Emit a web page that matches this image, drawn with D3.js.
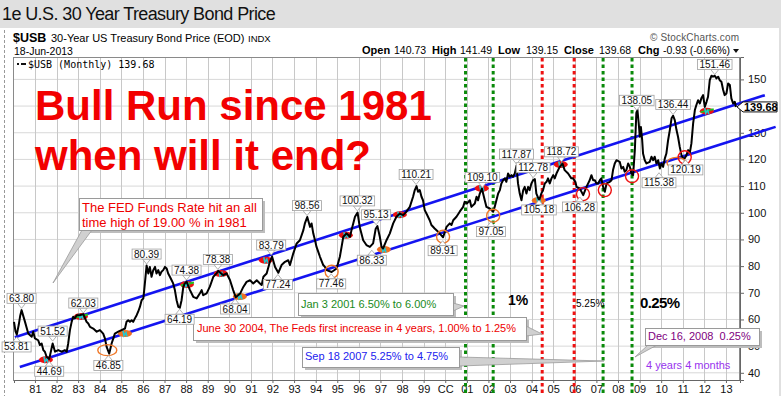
<html lang="en">
<head>
<script src="https://d3js.org/d3.v7.min.js" charset="utf-8"></script>
<style>
  body { margin: 0; background: #e0e0e0; }
  svg text { font-family: Arial, "Liberation Sans", sans-serif; }
</style>
</head>
<body>
<script>
// monthly close, [decimal year, price]
var bondClose = [
  [1980.03,59.1],[1980.10,55.5],[1980.16,54.3],[1980.25,58.0],[1980.32,61.5],[1980.38,63.5],
  [1980.54,59.1],[1980.69,54.7],[1980.85,53.5],[1980.92,55.4],[1981.00,52.9],[1981.15,52.2],
  [1981.23,50.4],[1981.31,51.0],[1981.39,48.5],[1981.46,47.9],[1981.54,46.0],[1981.66,45.2],
  [1981.82,51.0],[1981.93,47.9],[1982.08,48.5],[1982.23,47.9],[1982.39,48.5],[1982.47,47.9],
  [1982.54,51.0],[1982.62,56.0],[1982.70,59.1],[1982.77,61.0],[1982.85,60.4],[1982.93,61.6],
  [1983.08,61.6],[1983.24,62.0],[1983.39,59.1],[1983.47,58.5],[1983.55,57.2],[1983.70,56.6],
  [1983.86,55.4],[1984.01,56.0],[1984.16,54.7],[1984.24,52.9],[1984.32,49.7],[1984.44,47.2],
  [1984.55,51.0],[1984.63,52.9],[1984.70,54.7],[1984.86,55.4],[1985.01,56.0],[1985.17,56.6],
  [1985.24,59.1],[1985.32,59.7],[1985.40,59.1],[1985.48,59.7],[1985.55,59.1],[1985.63,60.4],
  [1985.71,61.6],[1985.78,62.9],[1985.86,64.7],[1985.94,67.2],[1986.02,67.9],[1986.06,71.0],
  [1986.12,76.0],[1986.17,80.2],[1986.25,77.2],[1986.32,79.7],[1986.40,76.0],[1986.48,78.5],
  [1986.56,79.7],[1986.63,77.2],[1986.71,78.5],[1986.79,76.6],[1986.86,77.9],[1986.94,78.5],
  [1987.02,79.7],[1987.10,79.1],[1987.17,77.2],[1987.25,76.0],[1987.33,74.7],[1987.40,73.5],
  [1987.48,71.0],[1987.56,67.2],[1987.64,64.7],[1987.71,64.4],[1987.79,67.2],[1987.87,72.2],
  [1987.94,73.5],[1988.02,74.2],[1988.18,71.0],[1988.33,68.5],[1988.49,67.9],[1988.64,69.8],
  [1988.72,71.0],[1988.79,69.1],[1988.95,69.8],[1989.10,72.3],[1989.26,76.0],[1989.41,77.3],
  [1989.49,78.2],[1989.72,76.6],[1989.87,77.3],[1990.03,74.8],[1990.18,71.0],[1990.30,68.3],
  [1990.50,69.7],[1990.65,72.2],[1990.80,74.1],[1990.96,74.7],[1991.11,73.5],[1991.27,74.7],
  [1991.42,73.5],[1991.50,72.9],[1991.58,76.0],[1991.73,77.2],[1991.88,81.6],[1991.98,83.6],
  [1992.12,79.7],[1992.27,77.5],[1992.42,80.4],[1992.58,81.6],[1992.73,82.2],[1992.81,80.4],
  [1992.96,84.7],[1993.12,88.5],[1993.27,89.7],[1993.43,93.5],[1993.50,96.0],[1993.61,98.4],
  [1993.74,94.7],[1993.81,96.0],[1993.89,92.2],[1993.97,89.7],[1994.04,87.2],[1994.20,83.5],
  [1994.35,80.4],[1994.43,79.7],[1994.51,78.5],[1994.74,77.8],[1994.97,79.1],[1995.12,83.5],
  [1995.20,87.2],[1995.28,91.0],[1995.43,92.2],[1995.59,91.0],[1995.66,93.5],[1995.74,96.0],
  [1995.82,98.5],[1995.94,100.1],[1996.04,94.7],[1996.20,89.7],[1996.35,87.9],[1996.51,87.2],
  [1996.66,88.5],[1996.78,94.0],[1996.86,95.0],[1996.97,91.0],[1997.05,87.2],[1997.12,86.6],
  [1997.28,89.7],[1997.43,92.2],[1997.59,96.0],[1997.74,98.5],[1997.90,99.7],[1998.05,99.1],
  [1998.20,100.4],[1998.36,102.2],[1998.51,106.0],[1998.59,108.5],[1998.67,110.0],[1998.74,107.9],
  [1998.82,108.5],[1998.90,106.0],[1998.97,104.7],[1999.05,101.0],[1999.13,99.7],[1999.28,97.2],
  [1999.36,95.4],[1999.51,94.1],[1999.67,92.9],[1999.90,90.8],[2000.06,94.7],[2000.21,96.0],
  [2000.29,95.4],[2000.37,97.2],[2000.52,98.5],[2000.67,100.4],[2000.83,102.2],[2000.90,104.1],
  [2001.01,103.5],[2001.14,104.7],[2001.21,102.2],[2001.37,103.5],[2001.45,106.0],[2001.52,104.7],
  [2001.60,107.2],[2001.70,109.0],[2001.83,104.7],[2001.91,102.2],[2002.06,101.6],[2002.22,100.4],
  [2002.29,102.2],[2002.37,104.7],[2002.45,107.2],[2002.53,108.5],[2002.60,111.0],[2002.68,112.2],
  [2002.76,112.9],[2002.83,111.6],[2002.91,114.7],[2002.99,113.5],[2003.07,114.1],[2003.14,113.5],
  [2003.22,114.7],[2003.30,117.6],[2003.37,111.0],[2003.45,107.2],[2003.53,104.7],[2003.61,108.5],
  [2003.68,109.7],[2003.76,107.2],[2003.84,109.7],[2003.91,108.5],[2003.99,111.0],[2004.07,112.2],
  [2004.15,112.6],[2004.22,107.2],[2004.35,104.7],[2004.45,107.2],[2004.53,108.5],[2004.61,111.0],
  [2004.69,111.6],[2004.76,112.9],[2004.84,111.0],[2004.92,112.9],[2005.00,114.1],[2005.07,112.9],
  [2005.15,114.7],[2005.30,117.2],[2005.43,118.4],[2005.53,116.0],[2005.69,114.7],[2005.84,112.9],
  [2005.92,112.9],[2006.03,111.5],[2006.08,109.7],[2006.23,109.1],[2006.39,106.6],[2006.54,109.7],
  [2006.69,112.2],[2006.77,114.1],[2006.85,112.2],[2006.93,112.2],[2007.00,111.0],[2007.08,111.0],
  [2007.16,112.2],[2007.23,112.9],[2007.31,109.7],[2007.39,107.9],[2007.47,111.0],[2007.62,111.6],
  [2007.70,112.2],[2007.77,116.0],[2007.85,118.5],[2007.93,119.7],[2008.08,119.1],[2008.16,116.6],
  [2008.24,117.2],[2008.31,115.4],[2008.39,116.0],[2008.47,118.5],[2008.55,117.2],[2008.62,114.7],
  [2008.70,114.1],[2008.78,123.5],[2008.85,137.5],[2008.90,138.6],[2008.96,133.5],[2009.01,128.5],
  [2009.06,132.2],[2009.12,127.2],[2009.16,122.2],[2009.24,119.7],[2009.32,118.5],[2009.47,119.1],
  [2009.55,121.0],[2009.63,119.7],[2009.70,121.0],[2009.78,118.5],[2009.86,119.7],[2009.94,116.6],
  [2010.01,118.5],[2010.09,117.2],[2010.17,120.4],[2010.24,122.2],[2010.32,127.2],[2010.40,131.0],
  [2010.48,135.4],[2010.55,136.4],[2010.63,134.7],[2010.71,131.0],[2010.78,128.5],[2010.86,124.7],
  [2010.94,121.6],[2011.02,120.4],[2011.09,120.4],[2011.17,121.6],[2011.25,123.5],[2011.32,122.2],
  [2011.40,126.0],[2011.48,133.5],[2011.56,138.5],[2011.63,140.4],[2011.71,142.2],[2011.79,141.0],
  [2011.86,142.9],[2011.94,144.1],[2012.02,139.7],[2012.10,141.6],[2012.17,143.5],[2012.25,149.7],
  [2012.33,151.4],[2012.40,151.0],[2012.48,151.4],[2012.56,150.4],[2012.64,151.0],[2012.71,149.7],
  [2012.79,149.1],[2012.87,146.0],[2012.94,144.1],[2013.02,144.7],[2013.10,148.5],[2013.18,147.9],
  [2013.25,142.9],[2013.33,141.0],[2013.41,141.6],[2013.46,139.68]
]

// high / low call-outs: [year, value, text, side]
var peakLabels = [
  [1980.38,63.80,"63.80","up"],[1980.15,53.81,"53.81","down"],[1981.82,51.52,"51.52","up"],
  [1981.66,44.69,"44.69","down"],[1983.24,62.03,"62.03","up"],[1984.40,46.85,"46.85","down"],
  [1986.17,80.39,"80.39","up"],[1987.70,64.19,"64.19","down"],[1988.02,74.38,"74.38","up"],
  [1989.47,78.38,"78.38","up"],[1990.27,68.04,"68.04","down"],[1991.94,83.79,"83.79","up"],
  [1992.25,77.24,"77.24","down"],[1993.60,98.56,"98.56","up"],[1994.72,77.46,"77.46","down"],
  [1995.93,100.32,"100.32","up"],[1996.80,95.13,"95.13","up"],[1996.60,86.33,"86.33","down"],
  [1998.65,110.21,"110.21","up"],[1999.88,89.91,"89.91","down"],[2001.72,109.10,"109.10","up"],
  [2002.12,97.05,"97.05","down"],[2003.30,117.87,"117.87","up"],[2004.07,112.78,"112.78","up"],
  [2004.34,105.18,"105.18","down"],[2005.38,118.72,"118.72","up"],[2006.23,106.28,"106.28","down"],
  [2008.87,138.05,"138.05","up"],[2009.90,115.38,"115.38","down"],[2010.55,136.44,"136.44","up"],
  [2011.13,120.19,"120.19","down"],[2012.48,151.46,"151.46","up"]
]

// channel lines drawn on the chart
var upperChannel = [[1980.07,53.3],[2014.80,144.1]]
var lowerChannel = [[1980.30,42.2],[2015.30,132.2]]

// Fed rate moves marked by dashed verticals
var rateMoves = [[2000.94,"cut"],[2002.22,"cut"],[2004.49,"hike"],[2005.97,"hike"],[2007.31,"cut"],[2008.65,"cut"]]

// touches of the channel (painted blobs) and rings round the lows
var touchMarks = [
  [1981.51,44.9,"red"],[1983.13,61.1,"redGreen"],[1985.17,54.7,"orange"],[1988.04,73.1,"redGreen"],
  [1989.61,77.2,"red"],[1990.49,68.6,"orange"],[1991.69,82.2,"red"],[1995.40,91.6,"red"],
  [1997.16,86.2,"orange"],[1997.90,99.3,"red"],[2001.69,109.2,"red"],[2004.33,104.6,"orange"],
  [2005.35,118.1,"red"],[2012.11,138.1,"redGreen"]
]
var lowRings = [
  [1984.35,48.5,"orangeWide"],[1994.74,77.9,"orange"],[1999.90,91.0,"orange"],[2002.22,98.9,"orange"],
  [2006.38,107.0,"red"],[2007.39,108.5,"red"],[2008.65,113.7,"red"],[2010.71,118.7,"orangeWide"],
  [2011.09,120.8,"red"]
]

var yTicks = [40,50,60,70,80,90,100,110,120,130,140,150]
var yearTicks = d3.range(1981, 2014)
var lastClose = 139.68

var width = 781, height = 396

var svg = d3.select("body").append("svg")
  .attr("width", width).attr("height", height)

// panels
svg.append("rect").attr("width", width).attr("height", height).attr("fill", "#e0e0e0")
svg.append("rect").attr("x", 0).attr("y", 28).attr("width", 779).attr("height", 368).attr("fill", "white")
svg.append("text").attr("x", 2).attr("y", 20).attr("font-size", 18).attr("letter-spacing", -0.6)
  .attr("fill", "#111").text("1e U.S. 30 Year Treasury Bond Price")

var x = d3.scaleLinear().domain([1980.03, 2013.65]).range([14, 740])
var y = d3.scaleLinear().domain([37.3, 158.4]).range([380, 57])

// header
var hdr = svg.append("g")
hdr.append("text").attr("x", 13).attr("y", 42).attr("font-size", 12.5).attr("font-weight", "bold").text("$USB")
hdr.append("text").attr("x", 51).attr("y", 42).attr("font-size", 11).text("30-Year US Treasury Bond Price (EOD)")
hdr.append("text").attr("x", 248).attr("y", 42).attr("font-size", 9.5).text("INDX")
hdr.append("text").attr("x", 14).attr("y", 55).attr("font-size", 10.5).text("18-Jun-2013")
hdr.append("text").attr("x", 650).attr("y", 41).attr("font-size", 10).attr("fill", "#555")
  .attr("textLength", 89).text("\u00a9 StockCharts.com")
var ohlc = [["Open",362,true],["140.73",394,false],["High",432,true],["141.49",460,false],["Low",498,true],
  ["139.15",526,false],["Close",564,true],["139.68",599,false],["Chg",638,true],["-0.93 (-0.66%)",663,false]]
ohlc.forEach(function(d) {
  hdr.append("text").attr("x", d[1]).attr("y", 54)
    .attr("font-size", d[2] ? 11 : 10.5).attr("font-weight", d[2] ? "bold" : "normal").text(d[0])
})
hdr.append("path").attr("d", "M733,49 L739,49 L736,53 Z").attr("fill", "#111")

// plot frame and grid
var grid = svg.append("g")
grid.selectAll(".hg").data(yTicks).enter().append("line")
  .attr("x1", 14).attr("x2", 740).attr("y1", function(d) { return y(d) }).attr("y2", function(d) { return y(d) })
  .attr("stroke", "#d8d8d8").attr("stroke-width", 1)
grid.selectAll(".vg").data(yearTicks).enter().append("line")
  .attr("x1", function(d) { return Math.round(x(d)) + 0.5 }).attr("x2", function(d) { return Math.round(x(d)) + 0.5 })
  .attr("y1", 57).attr("y2", 380).attr("stroke", "#c8c8c8").attr("stroke-width", 1)
svg.append("rect").attr("x", 13.5).attr("y", 57.5).attr("width", 726).attr("height", 323)
  .attr("fill", "none").attr("stroke", "#8a8a8a")
svg.append("line").attr("x1", 4.5).attr("x2", 4.5).attr("y1", 30).attr("y2", 396)
  .attr("stroke", "#999").attr("stroke-dasharray", "3,2")

// legend
svg.append("rect").attr("x", 17).attr("y", 63).attr("width", 2).attr("height", 2).attr("fill", "#111")
svg.append("line").attr("x1", 21).attr("x2", 26).attr("y1", 64).attr("y2", 64).attr("stroke", "#111").attr("stroke-width", 2)
svg.append("text").attr("x", 28).attr("y", 68).attr("font-size", 10)
  .style("font-family", "'DejaVu Sans Mono', monospace").text("$USB (Monthly) " + lastClose.toFixed(2))

// axes (the 140 label sits under the last-value tag, so it is left blank)
var yAxis = svg.append("g").attr("transform", "translate(740,0)")
  .call(d3.axisRight(y).tickValues(yTicks).tickSize(4).tickPadding(4)
    .tickFormat(function(d) { return Math.abs(d - lastClose) < 5 ? "" : d }))
yAxis.select(".domain").attr("stroke", "#666")
yAxis.selectAll("line").attr("stroke", "#666")
yAxis.selectAll("text").attr("font-size", 11).attr("font-family", "Arial, 'Liberation Sans', sans-serif").attr("fill", "#111")

var xAxis = svg.append("g").attr("transform", "translate(0,380)")
  .call(d3.axisBottom(x).tickValues(yearTicks).tickSize(3).tickPadding(2)
    .tickFormat(function(d) { return d === 2000 ? "CC" : String(d).slice(2) }))
xAxis.select(".domain").attr("stroke", "#666")
xAxis.selectAll("line").attr("stroke", "#666")
xAxis.selectAll("text").attr("font-size", 11).attr("font-family", "Arial, 'Liberation Sans', sans-serif").attr("fill", "#111")

// big headline
var headline = svg.append("g").attr("fill", "#f20000").attr("font-weight", "bold").attr("font-size", 42)
headline.append("text").attr("x", 35).attr("y", 120).text("Bull Run since 1981")
headline.append("text").attr("x", 35).attr("y", 170).text("when will it end?")

// dashed rate-move lines
svg.selectAll(".rate").data(rateMoves).enter().append("line")
  .attr("x1", function(d) { return x(d[0]) }).attr("x2", function(d) { return x(d[0]) })
  .attr("y1", 58).attr("y2", 396)
  .attr("stroke", function(d) { return d[1] === "cut" ? "#0a8a0a" : "#ee1111" })
  .attr("stroke-width", 3).attr("stroke-dasharray", "3.5,3")

// callout boxes
function callout(bx, by, bw, bh, tail) {
  var g = svg.append("g")
  g.append("rect").attr("x", bx + 3).attr("y", by + 3).attr("width", bw).attr("height", bh).attr("fill", "#bdbdbd")
  g.append("path").attr("d", tail).attr("fill", "#d0d0d0").attr("stroke", "#9a9a9a").attr("stroke-width", 0.8)
  g.append("rect").attr("x", bx + 0.5).attr("y", by + 0.5).attr("width", bw).attr("height", bh)
    .attr("fill", "white").attr("stroke", "#9a9a9a")
  return g
}
var fed = callout(79, 198, 183, 32, "M82,230 L92,230 L53,283 Z")
fed.append("text").attr("x", 82).attr("y", 212).attr("font-size", 13).attr("fill", "#ee0000").text("The FED Funds Rate hit an all")
fed.append("text").attr("x", 82).attr("y", 227).attr("font-size", 13).attr("fill", "#ee0000").text("time high of 19.00 % in 1981")

var jan = callout(298, 293, 155, 22, "M453,303 L464,306 L453,311 Z")
jan.append("text").attr("x", 301).attr("y", 308).attr("font-size", 11).attr("fill", "#1a8a1a").text("Jan 3 2001 6.50% to 6.00%")

var jun = callout(193, 317, 333, 23, "M526,326 L542,334 L526,336 Z")
jun.append("text").attr("x", 197).attr("y", 332).attr("font-size", 11).attr("fill", "#ee0000")
  .text("June 30 2004, The Feds first increase in 4 years, 1.00% to 1.25%")

var sep = callout(302, 347, 157, 20, "M459,357 L604,361 L459,366 Z")
sep.append("text").attr("x", 305).attr("y", 360).attr("font-size", 11).attr("fill", "#2222ee").text("Sep 18 2007 5.25% to 4.75%")

var dec = callout(645, 328, 114, 17, "M648,345 L657,345 L635,357 Z")
dec.append("text").attr("x", 648).attr("y", 340).attr("font-size", 11).attr("fill", "#800080").attr("xml:space", "preserve")
  .text("Dec 16, 2008  0.25%")
svg.append("text").attr("x", 646).attr("y", 369).attr("font-size", 11).attr("fill", "#9933ee").text("4 years 4 months")

svg.append("text").attr("x", 508).attr("y", 305).attr("font-size", 14).attr("font-weight", "bold").text("1%")
svg.append("text").attr("x", 576).attr("y", 307).attr("font-size", 10).text("5.25%")
svg.append("text").attr("x", 640).attr("y", 308).attr("font-size", 15).attr("font-weight", "bold")
  .attr("letter-spacing", -0.6).text("0.25%")

// channel
var lineGen = d3.line().x(function(d) { return x(d[0]) }).y(function(d) { return y(d[1]) })
svg.append("path").datum(upperChannel).attr("d", lineGen).attr("stroke", "#1414f0").attr("stroke-width", 2.6).attr("fill", "none")
svg.append("path").datum(lowerChannel).attr("d", lineGen).attr("stroke", "#1414f0").attr("stroke-width", 2.6).attr("fill", "none")

// touch blobs
var blobs = svg.append("g")
touchMarks.forEach(function(d) {
  var g = blobs.append("g").attr("transform", "translate(" + x(d[0]) + "," + y(d[1]) + ")")
  g.append("ellipse").attr("rx", 7).attr("ry", 3.5).attr("fill", d[2] === "orange" ? "#f07020" : "#ee1111")
  if (d[2] === "redGreen") {
    g.append("line").attr("x1", -6).attr("x2", 7).attr("y1", 1).attr("y2", -2).attr("stroke", "#22c022").attr("stroke-width", 2)
  }
  g.append("path").attr("d", "M-2,-3 L-1,2 L1,-1 L2,3").attr("stroke", "#22c8d0").attr("stroke-width", 1.6).attr("fill", "none")
})

// price line
svg.append("path").datum(bondClose).attr("d", lineGen)
  .attr("fill", "none").attr("stroke", "#000").attr("stroke-width", 2).attr("stroke-linejoin", "round")

// rings round lows
svg.selectAll(".ring").data(lowRings).enter().append("ellipse")
  .attr("cx", function(d) { return x(d[0]) }).attr("cy", function(d) { return y(d[1]) })
  .attr("rx", function(d) { return d[2] === "orangeWide" ? 9.5 : 6.5 })
  .attr("ry", function(d) { return d[2] === "orangeWide" ? 5.5 : 6.5 })
  .attr("fill", "none").attr("stroke", function(d) { return d[2] === "red" ? "#ee1111" : "#f07828" })
  .attr("stroke-width", 1.4)

// high/low labels
var lab = svg.append("g")
peakLabels.forEach(function(d) {
  var ax = x(d[0]), ay = y(d[1]), up = d[3] === "up"
  var g = lab.append("g")
  var t = g.append("text").attr("font-size", 10).attr("text-anchor", "middle").attr("x", ax).text(d[2])
  var w = t.node().getComputedTextLength() + 4, h = 10
  var by = up ? ay - 6 - h : ay + 6
  var py = up ? by + h : by
  g.insert("path", "text").attr("d", "M" + (ax - 4) + "," + py + " L" + ax + "," + (up ? ay - 1 : ay + 1) + " L" + (ax + 4) + "," + py + " Z")
    .attr("fill", "white").attr("stroke", "#a0a0a0").attr("stroke-width", 0.8)
  g.insert("rect", "text").attr("x", ax - w / 2).attr("y", by).attr("width", w).attr("height", h)
    .attr("fill", "white").attr("stroke", "#a0a0a0").attr("stroke-width", 0.8)
  t.attr("y", by + 8.5).attr("fill", "#111")
})

// last value tag
var ly = y(lastClose)
svg.append("path").attr("d", "M737," + ly + " L743," + (ly - 5) + " L777," + (ly - 5) + " L777," + (ly + 5) + " L743," + (ly + 5) + " Z")
  .attr("fill", "white").attr("stroke", "#111").attr("stroke-width", 1)
svg.append("text").attr("x", 744).attr("y", ly + 4).attr("font-size", 11).attr("font-weight", "bold").text(lastClose.toFixed(2))
</script>
</body>
</html>
